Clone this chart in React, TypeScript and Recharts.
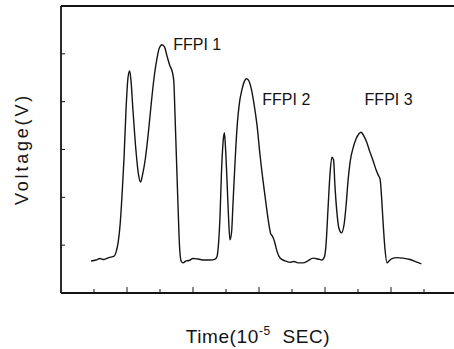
import { LineChart, Line, XAxis, YAxis, ReferenceDot, Label } from "recharts";

// time in 10^-5 s (tick units), voltage in tick units
const time = [
  0.91, 1.06, 1.18, 1.3, 1.45, 1.61, 1.67, 1.73, 1.79, 1.85, 1.91, 1.97, 2.03, 2.08, 2.12, 2.18, 2.27,
  2.35, 2.41, 2.47, 2.55, 2.64, 2.73, 2.82, 2.91, 2.98, 3.06, 3.14, 3.21, 3.3, 3.38, 3.42, 3.45, 3.5,
  3.55, 3.59, 3.64, 3.7, 3.79, 3.88, 4.0, 4.15, 4.33, 4.52, 4.67, 4.73, 4.77, 4.82, 4.86, 4.91, 4.95,
  4.98, 5.03, 5.08, 5.12, 5.17, 5.21, 5.27, 5.33, 5.41, 5.48, 5.56, 5.62, 5.68, 5.76, 5.85, 5.94, 6.03,
  6.12, 6.21, 6.29, 6.35, 6.42, 6.48, 6.55, 6.64, 6.79, 6.94, 7.06, 7.18, 7.33, 7.48, 7.64, 7.79, 7.91,
  7.98, 8.03, 8.09, 8.15, 8.21, 8.26, 8.3, 8.36, 8.42, 8.5, 8.58, 8.64, 8.7, 8.77, 8.85, 8.94, 9.03,
  9.09, 9.18, 9.27, 9.36, 9.45, 9.55, 9.61, 9.67, 9.7, 9.76, 9.82, 9.88, 9.94, 10.03, 10.18, 10.36,
  10.58, 10.76, 10.92,
];
const voltage = [
  0.67, 0.69, 0.72, 0.7, 0.74, 0.77, 0.86, 1.05, 1.42, 2.05, 2.82, 3.83, 4.5, 4.64, 4.45, 3.83, 2.99,
  2.47, 2.32, 2.47, 2.78, 3.3, 3.93, 4.5, 4.91, 5.12, 5.19, 5.14, 4.96, 4.75, 4.6, 4.41, 3.83, 2.78,
  1.74, 1.0, 0.67, 0.63, 0.67, 0.68, 0.72, 0.71, 0.69, 0.69, 0.71, 0.77, 1.0, 1.63, 2.47, 3.14, 3.35,
  3.1, 2.36, 1.53, 1.11, 1.28, 1.84, 2.68, 3.41, 3.99, 4.24, 4.43, 4.48, 4.45, 4.29, 3.95, 3.51, 2.89,
  2.36, 1.88, 1.48, 1.25, 1.17, 1.05, 0.86, 0.73, 0.67, 0.64, 0.66, 0.63, 0.63, 0.67, 0.73, 0.71, 0.69,
  0.75, 1.0, 1.74, 2.47, 2.84, 2.78, 2.26, 1.69, 1.36, 1.26, 1.44, 1.84, 2.36, 2.78, 3.03, 3.22, 3.33,
  3.36, 3.28, 3.14, 2.95, 2.78, 2.57, 2.47, 2.38, 2.15, 1.48, 0.9, 0.63, 0.67, 0.72, 0.74, 0.73,
  0.7, 0.65, 0.61,
];

const xTicks = [1, 2, 3, 4, 5, 6, 7, 8, 9, 10, 11];
const yTicks = [1, 2, 3, 4, 5];

const peakLabels = ["FFPI  1", "FFPI  2", "FFPI  3"];
const labelTime = [3.4, 6.1, 9.2];
const labelVoltage = [5.2, 4.05, 4.05];

const data = time.map((t, i) => ({ t, v: voltage[i] }));

const INK = "#141414";
const FONT = "Arial, 'Liberation Sans', Helvetica, sans-serif";

const XTick = (props: any) => {
  const { x, y, payload } = props;
  const len = payload.value % 2 === 0 ? 6 : 4;
  return <line x1={x} x2={x} y1={y} y2={y - len} stroke={INK} strokeWidth={1} />;
};

const YTick = (props: any) => {
  const { x, y } = props;
  return <line x1={x} x2={x + 4} y1={y} y2={y} stroke={INK} strokeWidth={1} />;
};

const XTitle = () => (
  <text x={258} y={343} textAnchor="middle" fontFamily={FONT} fontSize={19} fill={INK} letterSpacing={0.6}>
    Time(10
    <tspan fontSize={12} dy={-8}>-5</tspan>
    <tspan dy={8} style={{ whiteSpace: "pre" }}>{"  SEC)"}</tspan>
  </text>
);

const YTitle = () => (
  <text
    x={0}
    y={0}
    transform="translate(28,149) rotate(-90)"
    textAnchor="middle"
    fontFamily={FONT}
    fontSize={18}
    fill={INK}
    letterSpacing={2.8}
  >
    Voltage(V)
  </text>
);

export default function App() {
  return (
    <div style={{ position: "absolute", left: 0, top: 0, width: 454, height: 349, overflow: "hidden", background: "#fff" }}>
      <LineChart width={457} height={349} data={data} margin={{ top: 5, right: 0, left: 60, bottom: 55 }}>
        <XAxis
          type="number"
          dataKey="t"
          domain={[0, 12]}
          ticks={xTicks}
          height={1}
          tickSize={0}
          tickMargin={0}
          tickLine={false}
          tick={<XTick />}
          axisLine={{ stroke: INK, strokeWidth: 1.8 }}
        >
          <Label content={<XTitle />} />
        </XAxis>
        <XAxis
          xAxisId="top"
          orientation="top"
          type="number"
          dataKey="t"
          domain={[0, 12]}
          height={1}
          tick={false}
          tickLine={false}
          axisLine={{ stroke: INK, strokeWidth: 1.8 }}
        />
        <YAxis
          type="number"
          domain={[0, 6]}
          ticks={yTicks}
          width={1}
          tickSize={0}
          tickMargin={0}
          tickLine={false}
          tick={<YTick />}
          axisLine={{ stroke: INK, strokeWidth: 1.8 }}
        >
          <Label content={<YTitle />} />
        </YAxis>
        <Line
          type="monotone"
          dataKey="v"
          stroke={INK}
          strokeWidth={1.4}
          dot={false}
          isAnimationActive={false}
        />
        {peakLabels.map((name, i) => (
          <ReferenceDot
            key={name}
            x={labelTime[i]}
            y={labelVoltage[i]}
            r={0}
            fill="none"
            stroke="none"
            label={{ value: name, position: "right", offset: 0, fontSize: 16, fill: INK, fontFamily: FONT, style: { whiteSpace: "pre" } }}
          />
        ))}
      </LineChart>
    </div>
  );
}
